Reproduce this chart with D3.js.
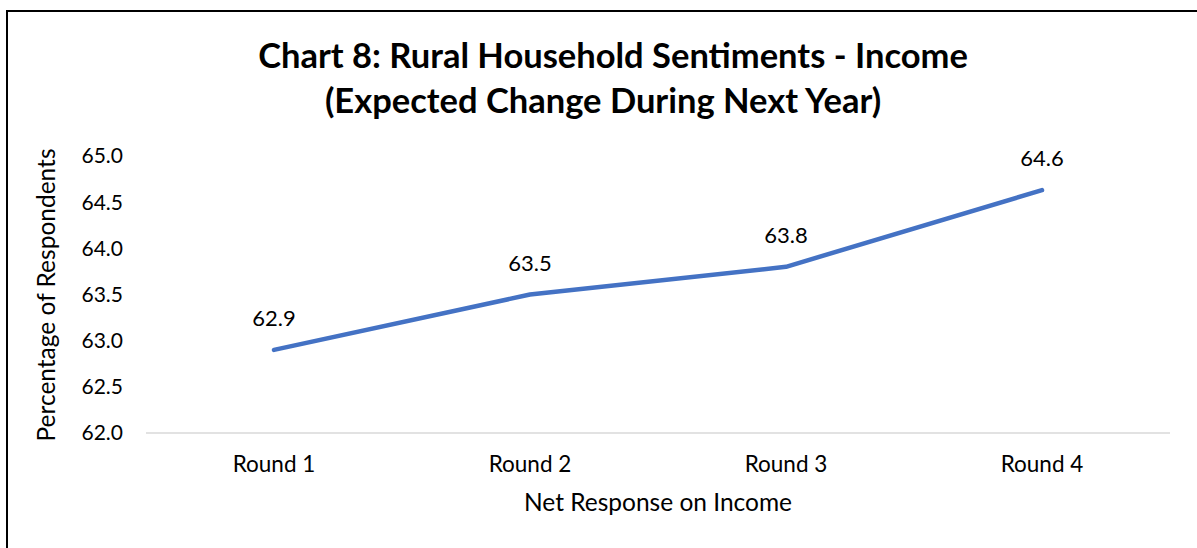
<!DOCTYPE html>
<html><head><meta charset="utf-8">
<script src="https://cdn.jsdelivr.net/npm/d3@7"></script>
<style>body{margin:0;background:#fff;}svg{display:block;font-family:Lato,"Open Sans",sans-serif;}</style>
</head><body>
<script>
const categories = ["Round 1","Round 2","Round 3","Round 4"];
const values = [62.9, 63.5, 63.8, 64.63];
const yTicks = [62.0,62.5,63.0,63.5,64.0,64.5,65.0];
const titleLines = ["Chart 8: Rural Household Sentiments - Income","(Expected Change During Next Year)"];
const xTitle = "Net Response on Income";
const yTitle = "Percentage of Respondents";

const W=1197,H=548;
const svg=d3.select("body").append("svg").attr("width",W).attr("height",H);
svg.append("rect").attr("x",7).attr("y",11).attr("width",1200).attr("height",560)
  .attr("fill","#fff").attr("stroke","#000").attr("stroke-width",2);

const x=d3.scaleBand().domain(categories).range([146,1170]);
const y=d3.scaleLinear().domain([62,65]).range([433,156]);

svg.append("g").selectAll("text").data(yTicks).join("text")
  .attr("x",123).attr("y",d=>y(d)).attr("dy","0.35em").attr("text-anchor","end")
  .attr("font-size",21).attr("fill","#000").text(d=>d.toFixed(1));

svg.append("line").attr("x1",146).attr("x2",1170).attr("y1",y(62)).attr("y2",y(62))
  .attr("stroke","#d9d9d9").attr("stroke-width",1.5);

svg.append("g").selectAll("text").data(categories).join("text")
  .attr("x",d=>x(d)+x.bandwidth()/2).attr("y",472).attr("text-anchor","middle")
  .attr("font-size",22.5).attr("fill","#000").text(d=>d);

const line=d3.line().x((d,i)=>x(categories[i])+x.bandwidth()/2).y(d=>y(d));
svg.append("path").datum(values).attr("d",line).attr("fill","none")
  .attr("stroke","#4472C4").attr("stroke-width",4.5).attr("stroke-linecap","round").attr("stroke-linejoin","round");

svg.append("g").selectAll("text").data(values).join("text")
  .attr("x",(d,i)=>x(categories[i])+x.bandwidth()/2).attr("y",d=>y(d)-24)
  .attr("text-anchor","middle").attr("font-size",22).attr("fill","#000").text(d=>d.toFixed(1));

svg.append("g").selectAll("text").data(titleLines).join("text")
  .attr("x",(d,i)=>i===0?613:603).attr("y",(d,i)=>68+i*45).attr("text-anchor","middle")
  .attr("font-size",34.5).attr("font-weight","bold").attr("fill","#000").text(d=>d);

svg.append("text").attr("x",658).attr("y",511).attr("text-anchor","middle")
  .attr("font-size",24.5).attr("fill","#000").text(xTitle);

svg.append("text").attr("transform","translate(55,295) rotate(-90)").attr("text-anchor","middle")
  .attr("font-size",24.5).attr("fill","#000").text(yTitle);
</script>
</body></html>
